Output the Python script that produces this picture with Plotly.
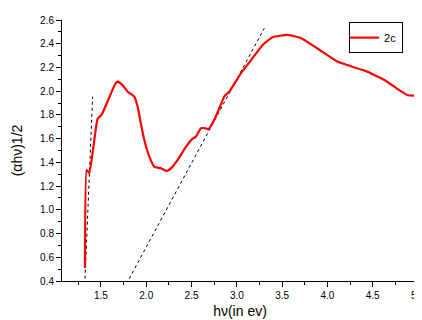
import plotly.graph_objects as go

hv = [1.324, 1.342, 1.371, 1.42, 1.464, 1.507, 1.56, 1.61, 1.65, 1.684, 1.74, 1.795, 1.868, 1.905,
      1.94, 1.978, 2.033, 2.088, 2.162, 2.228, 2.291, 2.347, 2.438, 2.512, 2.549, 2.604, 2.659,
      2.685, 2.75, 2.82, 2.861, 2.916, 3.045, 3.156, 3.285, 3.395, 3.56, 3.71, 3.89, 4.11, 4.22,
      4.44, 4.66, 4.77, 4.88, 5.0]
ahv = [0.51, 1.336, 1.31, 1.55, 1.77, 1.80, 1.89, 1.98, 2.05, 2.08, 2.05, 1.996, 1.954, 1.87,
       1.73, 1.59, 1.45, 1.364, 1.35, 1.327, 1.364, 1.42, 1.53, 1.60, 1.617, 1.687, 1.687,
       1.68, 1.757, 1.88, 1.955, 1.996, 2.15, 2.26, 2.39, 2.455, 2.474, 2.447, 2.36, 2.25, 2.22,
       2.165, 2.08, 2.02, 1.968, 1.96]

fit1_x = [1.324, 1.408]
fit1_y = [0.42, 1.954]
fit2_x = [1.812, 3.303]
fit2_y = [0.42, 2.53]

font = "Liberation Sans, Arial, sans-serif"

fig = go.Figure()
fig.add_trace(go.Scatter(x=fit1_x, y=fit1_y, mode="lines", showlegend=False,
                         line=dict(color="black", width=1, dash="dot")))
fig.add_trace(go.Scatter(x=fit2_x, y=fit2_y, mode="lines", showlegend=False,
                         line=dict(color="black", width=1, dash="dot")))
fig.add_trace(go.Scatter(x=hv, y=ahv, mode="lines", name="2c",
                         line=dict(color="#ff0000", width=2.2, shape="spline", smoothing=0.4)))

# page body has an 8px margin, so the figure is sized to fit the 422x320 window
fig.update_layout(
    width=414, height=312,
    margin=dict(l=54, r=4, t=12, b=39, autoexpand=False),
    paper_bgcolor="white", plot_bgcolor="white",
    font=dict(family=font, color="black", size=10),
    legend=dict(x=0.958, y=0.992, xanchor="right", yanchor="top",
                bordercolor="black", borderwidth=1, bgcolor="white",
                font=dict(size=11), tracegroupgap=0, itemwidth=30,
                indentation=-6),
    xaxis=dict(range=[1.07, 5.0001], tick0=1.0, dtick=0.5, tickformat=".1f",
               ticklabeloverflow="allow", automargin=False,
               showgrid=False, zeroline=False, showline=True, linecolor="black", linewidth=1,
               ticks="outside", ticklen=5, tickcolor="black",
               minor=dict(ticks="outside", ticklen=3, dtick=0.25, tickcolor="black"),
               title=dict(text="hν(in ev)", font=dict(size=14), standoff=6),
               tickfont=dict(size=10)),
    yaxis=dict(range=[0.4, 2.6], tick0=0.4, dtick=0.2, tickformat=".1f",
               automargin=False,
               showgrid=False, zeroline=False, showline=True, linecolor="black", linewidth=1,
               ticks="outside", ticklen=5, tickcolor="black",
               minor=dict(ticks="outside", ticklen=3, dtick=0.1, tickcolor="black"),
               title=dict(text="(αhν)1/2", font=dict(size=14), standoff=14),
               tickfont=dict(size=10)),
)

fig.write_html("out.html")
